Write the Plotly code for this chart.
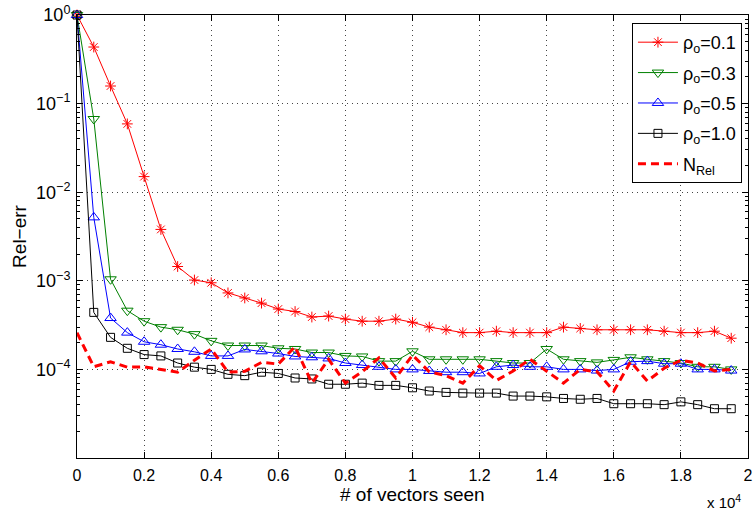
import plotly.graph_objects as go

# x positions: number of vectors seen
vectors_seen = [0, 500, 1000, 1500, 2000, 2500, 3000, 3500, 4000, 4500,
                5000, 5500, 6000, 6500, 7000, 7500, 8000, 8500, 9000, 9500,
                10000, 10500, 11000, 11500, 12000, 12500, 13000, 13500, 14000, 14500,
                15000, 15500, 16000, 16500, 17000, 17500, 18000, 18500, 19000, 19500]

rho_01 = [1.0, 0.435, 0.158, 0.059, 0.015, 0.0038, 0.00145, 0.00102, 0.00095, 0.00073,
          0.00064, 0.00056, 0.00048, 0.00045, 0.00039, 0.00040, 0.00037, 0.00035, 0.00035, 0.00037,
          0.00034, 0.00030, 0.00028, 0.00026, 0.00026, 0.00027, 0.00026, 0.00026, 0.00026, 0.00030,
          0.00029, 0.00028, 0.00028, 0.00028, 0.00028, 0.00027, 0.00026, 0.00026, 0.00027, 0.000225]

rho_03 = [1.0, 0.067, 0.00104, 0.00046, 0.00035, 0.00030, 0.00028, 0.00025, 0.00021, 0.000186,
          0.000186, 0.000186, 0.000173, 0.00017, 0.000155, 0.000155, 0.000142, 0.00014, 0.000124, 0.000124,
          0.000160, 0.00013, 0.00013, 0.00013, 0.00013, 0.000124, 0.000118, 0.000118, 0.00017, 0.00013,
          0.000124, 0.00012, 0.000128, 0.000137, 0.00013, 0.000124, 0.000118, 0.000107, 0.000107, 0.0001]

rho_05 = [1.0, 0.0052, 0.00038, 0.00026, 0.000205, 0.00019, 0.00017, 0.000158, 0.000142, 0.000142,
          0.000168, 0.00016, 0.000151, 0.00014, 0.000137, 0.000133, 0.000118, 0.000112, 0.000107, 0.0001,
          0.0001, 0.000096, 0.000093, 0.000093, 0.00009, 0.000107, 0.000112, 0.000107, 0.000107, 0.0001,
          0.0001, 0.000097, 0.0001, 0.000122, 0.000124, 0.000116, 0.000116, 0.0001, 0.0001, 0.000097]

rho_10 = [1.0, 0.00044, 0.00023, 0.000173, 0.000147, 0.000142, 0.000118, 0.000106, 0.0001, 0.000088,
          0.000085, 0.000093, 0.00009, 0.00008, 0.000078, 0.000068, 0.000068, 0.00007, 0.000066, 0.000066,
          0.000062, 0.000057, 0.000055, 0.000054, 0.000054, 0.000054, 0.00005, 0.00005, 0.000049, 0.000047,
          0.000046, 0.000047, 0.000041, 0.000041, 0.000041, 0.00004, 0.000043, 0.00004, 0.000036, 0.000036]

n_rel = [0.00026, 0.000107, 0.000122, 0.000106, 0.000107, 0.0001, 0.000093, 0.000127, 0.00017, 0.000093,
         0.000095, 0.00012, 0.000115, 0.00018, 0.00007, 0.00013, 0.00007, 0.000094, 0.000135, 0.00008,
         0.000145, 0.000094, 0.000085, 0.00007, 0.00011, 0.000075, 0.000096, 0.00013, 0.000096, 0.00007,
         0.0001, 0.000094, 0.000057, 0.000122, 0.000074, 0.000103, 0.000127, 0.000118, 0.000096, 0.0001]

x_tick_vals = [0, 2000, 4000, 6000, 8000, 10000, 12000, 14000, 16000, 18000, 20000]
x_tick_text = ["0", "0.2", "0.4", "0.6", "0.8", "1", "1.2", "1.4", "1.6", "1.8", "2"]
y_tick_vals = [1e-4, 1e-3, 1e-2, 1e-1, 1]
y_tick_text = ["10<sup>−4</sup>", "10<sup>−3</sup>", "10<sup>−2</sup>", "10<sup>−1</sup>", "10<sup>0</sup>"]

series = [
    ("ρ<sub>o</sub>=0.1", rho_01, "#ff0000", "asterisk-open", 9),
    ("ρ<sub>o</sub>=0.3", rho_03, "#008000", "triangle-down-open", 10),
    ("ρ<sub>o</sub>=0.5", rho_05, "#0000ff", "triangle-up-open", 10),
    ("ρ<sub>o</sub>=1.0", rho_10, "#000000", "square-open", 8),
]

fig = go.Figure()
for i, (name, vals, color, sym, size) in enumerate(series):
    fig.add_trace(go.Scatter(
        x=vectors_seen, y=vals, name=name, mode="lines+markers",
        line=dict(color=color, width=1),
        marker=dict(symbol=sym, size=size, color=color, line=dict(color=color, width=1)),
        cliponaxis=False, legendgroup=f"g{i}",
    ))
fig.add_trace(go.Scatter(
    x=vectors_seen, y=n_rel, name="N<sub>Rel</sub>", mode="lines",
    line=dict(color="#ff0000", width=3, dash="8px,5px"), legendgroup="g4",
))

minor_vals = []
for e in range(-5, 0):
    for d in range(2, 10):
        minor_vals.append(d * 10 ** e)

font_family = "Liberation Sans, Arial, Helvetica, sans-serif"

fig.update_layout(
    width=756, height=514,
    margin=dict(l=77, r=3, t=15, b=56),
    paper_bgcolor="white", plot_bgcolor="white",
    font=dict(family=font_family, size=16, color="black"),
    showlegend=True,
    legend=dict(
        x=0.991, y=0.982, xanchor="right", yanchor="top",
        bordercolor="black", borderwidth=1, bgcolor="white",
        font=dict(size=18), tracegroupgap=4, itemwidth=40,
    ),
    annotations=[
        dict(text="x 10<sup>4</sup>", x=0.992, y=-0.099, xref="paper", yref="paper",
             xanchor="right", yanchor="middle", showarrow=False, font=dict(size=15)),
        dict(text="# of vectors seen", x=0.5, y=-0.083, xref="paper", yref="paper",
             xanchor="center", yanchor="middle", showarrow=False, font=dict(size=19)),
    ],
)

fig.update_xaxes(
    range=[0, 20000], tickvals=x_tick_vals, ticktext=x_tick_text,
    ticks="inside", ticklen=6, tickcolor="black", mirror="allticks",
    showline=True, linecolor="black", linewidth=1,
    showgrid=True, gridcolor="#444", griddash="1px,4px", gridwidth=1,
    zeroline=False, ticklabelstandoff=3, ticklabeloverflow="allow",
    tickfont=dict(size=16),
)
fig.update_yaxes(
    type="log", range=[-5, 0], tickvals=y_tick_vals, ticktext=y_tick_text,
    ticks="inside", ticklen=6, tickcolor="black", mirror="allticks",
    showline=True, linecolor="black", linewidth=1,
    showgrid=True, gridcolor="#444", griddash="1px,4px", gridwidth=1,
    zeroline=False, ticklabelstandoff=2,
    tickfont=dict(size=18),
    minor=dict(ticks="inside", ticklen=3, tickcolor="black", tickvals=minor_vals, showgrid=False),
    title=dict(text="Rel−err", font=dict(size=19), standoff=4),
)

fig.write_html("out.html", config={"displayModeBar": False},
               post_script="document.body.style.margin='0px';")
